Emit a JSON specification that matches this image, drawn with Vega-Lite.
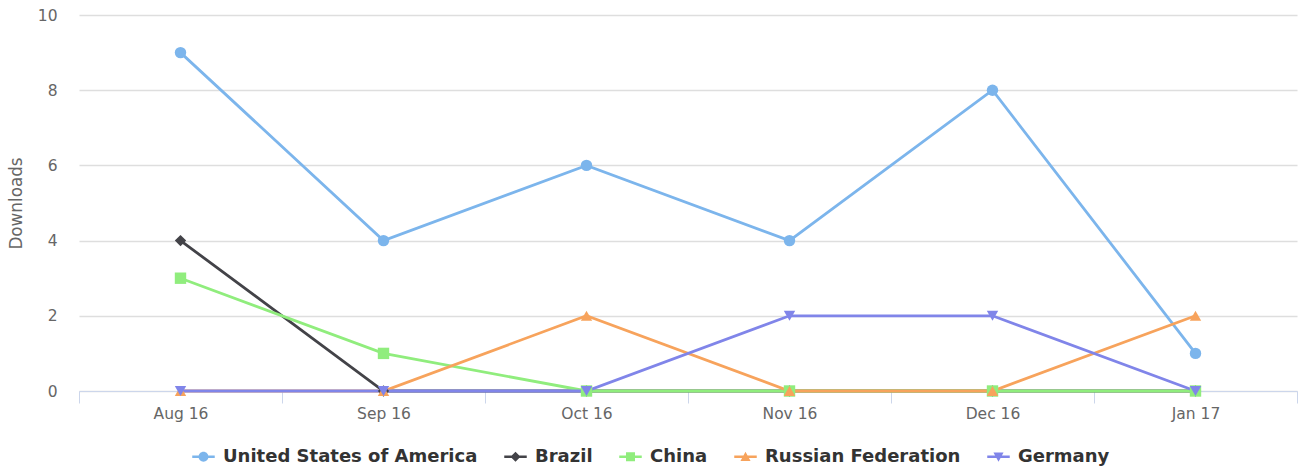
{
  "$schema": "https://vega.github.io/schema/vega-lite/v6.json",
  "width": 1218,
  "height": 376,
  "autosize": {"type": "none"},
  "padding": {"left": 79, "top": 15, "right": 3, "bottom": 78},
  "config": {
    "font": "DejaVu Sans",
    "view": {"stroke": null},
    "axis": {"labelColor": "#666666", "labelFontSize": 15.5, "titleColor": "#666666"},
    "legend": {
      "title": null,
      "orient": "none",
      "legendX": 113,
      "legendY": 430,
      "direction": "horizontal",
      "columns": 5,
      "symbolSize": 506,
      "symbolOpacity": 1,
      "symbolStrokeWidth": 0,
      "labelFontSize": 18,
      "labelFontWeight": "bold",
      "labelColor": "#333333",
      "labelLimit": 0,
      "labelOffset": 8,
      "columnPadding": 26
    }
  },
  "data": {
    "values": [
      {"country": "United States of America", "month": "Aug 16", "downloads": 9},
      {"country": "United States of America", "month": "Sep 16", "downloads": 4},
      {"country": "United States of America", "month": "Oct 16", "downloads": 6},
      {"country": "United States of America", "month": "Nov 16", "downloads": 4},
      {"country": "United States of America", "month": "Dec 16", "downloads": 8},
      {"country": "United States of America", "month": "Jan 17", "downloads": 1},
      {"country": "Brazil", "month": "Aug 16", "downloads": 4},
      {"country": "Brazil", "month": "Sep 16", "downloads": 0},
      {"country": "Brazil", "month": "Oct 16", "downloads": 0},
      {"country": "Brazil", "month": "Nov 16", "downloads": 0},
      {"country": "Brazil", "month": "Dec 16", "downloads": 0},
      {"country": "Brazil", "month": "Jan 17", "downloads": 0},
      {"country": "China", "month": "Aug 16", "downloads": 3},
      {"country": "China", "month": "Sep 16", "downloads": 1},
      {"country": "China", "month": "Oct 16", "downloads": 0},
      {"country": "China", "month": "Nov 16", "downloads": 0},
      {"country": "China", "month": "Dec 16", "downloads": 0},
      {"country": "China", "month": "Jan 17", "downloads": 0},
      {"country": "Russian Federation", "month": "Aug 16", "downloads": 0},
      {"country": "Russian Federation", "month": "Sep 16", "downloads": 0},
      {"country": "Russian Federation", "month": "Oct 16", "downloads": 2},
      {"country": "Russian Federation", "month": "Nov 16", "downloads": 0},
      {"country": "Russian Federation", "month": "Dec 16", "downloads": 0},
      {"country": "Russian Federation", "month": "Jan 17", "downloads": 2},
      {"country": "Germany", "month": "Aug 16", "downloads": 0},
      {"country": "Germany", "month": "Sep 16", "downloads": 0},
      {"country": "Germany", "month": "Oct 16", "downloads": 0},
      {"country": "Germany", "month": "Nov 16", "downloads": 2},
      {"country": "Germany", "month": "Dec 16", "downloads": 2},
      {"country": "Germany", "month": "Jan 17", "downloads": 0}
    ]
  },
  "encoding": {
    "x": {
      "field": "month",
      "type": "ordinal",
      "sort": ["Aug 16", "Sep 16", "Oct 16", "Nov 16", "Dec 16", "Jan 17"],
      "scale": {"type": "band", "paddingInner": 0, "paddingOuter": 0},
      "bandPosition": 0.5,
      "axis": {
        "title": null,
        "labelAngle": 0,
        "domainColor": "#ccd6eb",
        "tickColor": "#ccd6eb",
        "tickSize": 12,
        "tickBand": "extent",
        "labelPadding": 3,
        "grid": false
      }
    },
    "y": {
      "field": "downloads",
      "type": "quantitative",
      "scale": {"domain": [0, 10]},
      "axis": {
        "title": "Downloads",
        "values": [0, 2, 4, 6, 8, 10],
        "domain": false,
        "ticks": false,
        "gridColor": "#dedede",
        "gridWidth": 1.3,
        "labelPadding": 22,
        "titleFontSize": 16.8,
        "titleFontWeight": "normal",
        "titlePadding": 12
      }
    },
    "color": {
      "field": "country",
      "type": "nominal",
      "scale": {
        "domain": ["United States of America", "Brazil", "China", "Russian Federation", "Germany"],
        "range": ["#7cb5ec", "#434348", "#90ed7d", "#f7a35c", "#8085e9"]
      },
      "legend": null
    }
  },
  "layer": [
    {"mark": {"type": "line", "strokeWidth": 2.8}},
    {
      "mark": {"type": "point", "filled": true, "opacity": 1, "size": 130},
      "encoding": {
        "shape": {
          "field": "country",
          "type": "nominal",
          "scale": {
            "domain": ["United States of America", "Brazil", "China", "Russian Federation", "Germany"],
            "range": ["circle", "diamond", "square", "triangle-up", "triangle-down"]
          },
          "legend": null
        }
      }
    },
    {
      "mark": {"type": "point", "filled": true, "opacity": 0},
      "encoding": {
        "shape": {
          "field": "country",
          "type": "nominal",
          "scale": {
            "domain": ["United States of America", "Brazil", "China", "Russian Federation", "Germany"],
            "range": [
              "M-1,-0.11H1V0.11H-1Z M0.44,0A0.44,0.44 0 1 1 -0.44,0A0.44,0.44 0 1 1 0.44,0Z",
              "M-1,-0.11H1V0.11H-1Z M0,-0.45L0.45,0L0,0.45L-0.45,0Z",
              "M-1,-0.11H1V0.11H-1Z M-0.4,-0.4H0.4V0.4H-0.4Z",
              "M-1,-0.11H1V0.11H-1Z M0,-0.45L0.45,0.38L-0.45,0.38Z",
              "M-1,-0.11H1V0.11H-1Z M-0.45,-0.38H0.45L0,0.45Z"
            ]
          },
          "legend": {"symbolFillColor": "#333333"}
        },
        "color": {
          "field": "country",
          "type": "nominal",
          "scale": {
            "domain": ["United States of America", "Brazil", "China", "Russian Federation", "Germany"],
            "range": ["#7cb5ec", "#434348", "#90ed7d", "#f7a35c", "#8085e9"]
          },
          "legend": {}
        }
      }
    }
  ],
  "resolve": {"scale": {"shape": "independent", "color": "independent"}}
}
